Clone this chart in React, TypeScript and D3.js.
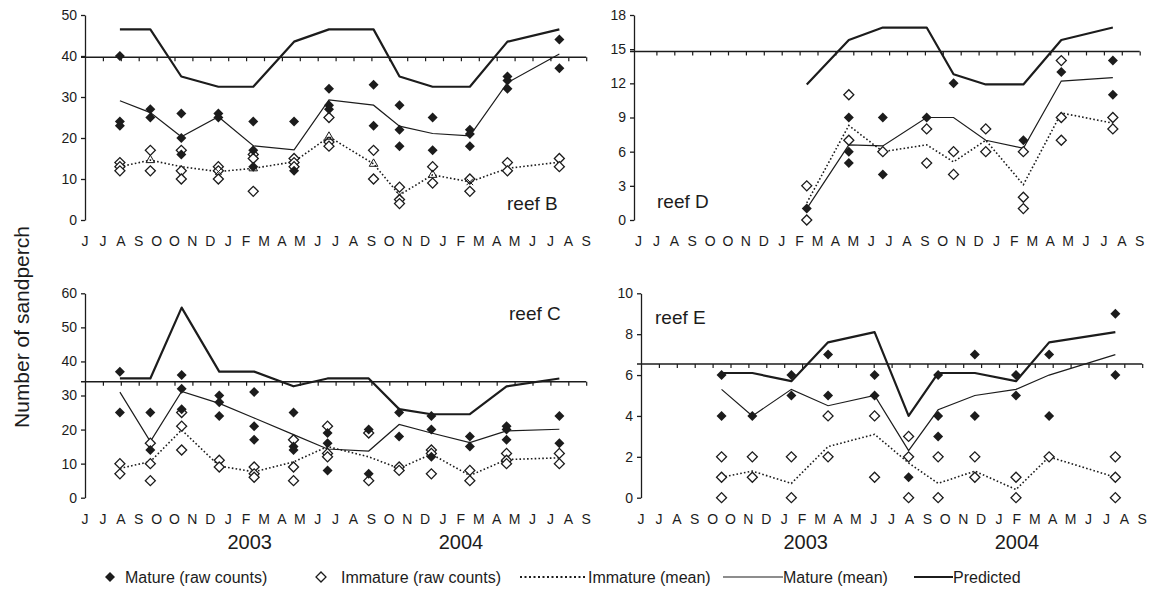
import React, { useRef, useEffect } from 'react'
import * as d3 from 'd3'

// month labels along each time axis (as printed in the original)
const monthLabels = ['J', 'J', 'A', 'S', 'O', 'O', 'N', 'D', 'J', 'F', 'M', 'A', 'M', 'J', 'J', 'A', 'S', 'O', 'N', 'D', 'J', 'F', 'M', 'A', 'M', 'J', 'J', 'A', 'S']
const yearLabels = ['2003', '2004']
const yearAt = [9.2, 21]

// reef B  (sample dates as month position, counts per replicate)
const reefBDates = [1.95, 3.65, 5.38, 7.45, 9.4, 11.68, 13.63, 16.12, 17.57, 19.42, 21.5, 23.6, 26.5]
const reefBMature = [[40, 24, 23], [27, 25], [26, 20, 16], [26, 25], [24, 17, 13], [24, 12], [32, 28, 27], [33, 23], [28, 22, 18], [25, 17], [22, 21, 18], [35, 34, 32], [44, 37]]
const reefBImmature = [[14, 13, 12], [17, 12], [17, 12, 10], [13, 12, 10], [16, 15, 7], [15, 14, 13], [25, 19, 18], [17, 10], [8, 5, 4], [13, 9], [10, 7], [14, 12], [15, 13]]
const reefBMatureMean = [29.1, 26.2, 20.3, 25.2, 18.1, 17.1, 29.3, 28, 22.9, 21.1, 20.5, 33.5, 40.5]
const reefBImmatureMean = [13, 14.6, 13, 11.8, 12.6, 14.2, 20.3, 13.7, 6.1, 11, 9.3, 12.6, 14.1]
const reefBPredicted = [46.5, 46.5, 35, 32.5, 32.5, 43.5, 46.5, 46.5, 35, 32.5, 32.5, 43.5, 46.5]
const reefBCross = 39.7
const reefBTriangles = [1, 4, 6, 7, 9]
const reefBCrosses = [3, 8, 10]

// reef D
const reefDDates = [9.4, 11.75, 13.65, 16.1, 17.6, 19.4, 21.5, 23.62, 26.5]
const reefDMature = [[1], [9, 6, 5], [9, 4], [9], [12], [], [7], [13], [14, 11]]
const reefDImmature = [[3, 0], [11, 7], [6], [8, 5], [6, 4], [8, 6], [6, 2, 1], [14, 9, 7], [9, 8]]
const reefDMatureMean = [1, 6.6, 6.5, 9, 9, 7, 6.3, 12.2, 12.5]
const reefDImmatureMean = [1.5, 8.3, 6, 6.6, 5.1, 7, 3.1, 9.4, 8.5]
const reefDPredicted = [11.9, 15.8, 16.9, 16.9, 12.8, 11.9, 11.9, 15.8, 16.9]
const reefDCross = 14.8

// reef C
const reefCDates = [1.95, 3.65, 5.4, 7.5, 9.45, 11.65, 13.55, 15.85, 17.55, 19.35, 21.5, 23.55, 26.5]
const reefCMature = [[37, 25], [25, 14], [36, 32, 26], [30, 28, 24], [31, 21, 17], [25, 15, 14], [19, 16, 8], [20, 7], [25, 18], [24, 20, 12], [18, 15], [21, 20, 17], [24, 16]]
const reefCImmature = [[10, 7], [16, 10, 5], [25, 21, 14], [11, 9], [9, 7, 6], [17, 9, 5], [21, 13, 12], [19, 5], [9, 8], [14, 13, 7], [8, 5], [13, 11, 10], [13, 10]]
const reefCMatureMean = [31, 16.5, 31.2, 27.7, 23.4, 18.5, 14.3, 13.7, 21.5, 19, 16.2, 19.6, 20.1]
const reefCImmatureMean = [8.6, 10.6, 19.9, 9.3, 7.6, 10.5, 15, 12, 8.6, 12.8, 6.5, 11.2, 11.7]
const reefCPredicted = [35, 35, 55.8, 37, 37, 32.7, 35, 35, 26, 24.5, 24.5, 32.7, 35]
const reefCCross = 34.05

// reef E
const reefEDates = [4.5, 6.22, 8.4, 10.45, 13.05, 14.95, 16.6, 18.65, 20.95, 22.8, 26.5]
const reefEMature = [[6, 4], [4], [6, 5], [7, 5], [6, 5], [1], [6, 4, 3], [7, 4], [6, 5], [7, 4], [9, 6]]
const reefEImmature = [[2, 1, 0], [2, 1], [2, 0], [4, 2], [4, 1], [3, 2, 0], [2, 0], [2, 1], [1, 0], [2], [2, 1, 0]]
const reefEMatureMean = [5.3, 4, 5.3, 4.5, 5, 2.3, 4.3, 5, 5.3, 6, 7]
const reefEImmatureMean = [1, 1.3, 0.7, 2.5, 3.1, 1.7, 0.7, 1.3, 0.4, 2, 1]
const reefEPredicted = [6.1, 6.1, 5.7, 7.6, 8.1, 4, 6.1, 6.1, 5.7, 7.6, 8.1]
const reefECross = 6.54

const W = 1153
const H = 596
const STEP = 17.9
const FONT = '"Liberation Sans", Arial, Helvetica, sans-serif'
const INK = '#1c1c1c'

const panels = [
  {
    name: 'reef B', dates: reefBDates, mature: reefBMature, immature: reefBImmature,
    matureMean: reefBMatureMean, immatureMean: reefBImmatureMean, predicted: reefBPredicted,
    cross: reefBCross, triangles: reefBTriangles, crosses: reefBCrosses,
    yMax: 50, yStep: 10, x0: 85, axisX: 85, top: 15, bottom: 220, monthY: 245.5, years: false,
    labelX: 507, labelY: 210
  },
  {
    name: 'reef D', dates: reefDDates, mature: reefDMature, immature: reefDImmature,
    matureMean: reefDMatureMean, immatureMean: reefDImmatureMean, predicted: reefDPredicted,
    cross: reefDCross, triangles: [], crosses: [],
    yMax: 18, yStep: 3, x0: 638.5, axisX: 634, top: 15, bottom: 220, monthY: 245.5, years: false,
    labelX: 657, labelY: 208
  },
  {
    name: 'reef C', dates: reefCDates, mature: reefCMature, immature: reefCImmature,
    matureMean: reefCMatureMean, immatureMean: reefCImmatureMean, predicted: reefCPredicted,
    cross: reefCCross, triangles: [], crosses: [],
    yMax: 60, yStep: 10, x0: 85, axisX: 85, top: 293.3, bottom: 497.7, monthY: 524, years: true,
    labelX: 509, labelY: 320
  },
  {
    name: 'reef E', dates: reefEDates, mature: reefEMature, immature: reefEImmature,
    matureMean: reefEMatureMean, immatureMean: reefEImmatureMean, predicted: reefEPredicted,
    cross: reefECross, triangles: [], crosses: [],
    yMax: 10, yStep: 2, x0: 641, axisX: 641, top: 293.3, bottom: 497.7, monthY: 524, years: true,
    labelX: 655, labelY: 324
  }
]

const diamond = d3.symbol(d3.symbolSquare, 50)()

function drawPanel(svg: any, p: any) {
  const x = d3.scaleLinear().domain([0, 28]).range([p.x0, p.x0 + 28 * STEP])
  const y = d3.scaleLinear().domain([0, p.yMax]).range([p.bottom, p.top])
  const g = svg.append('g')

  // vertical axis
  const ya = g.append('g')
    .attr('transform', `translate(${p.axisX},0)`)
    .call(d3.axisLeft(y).tickValues(d3.range(0, p.yMax + 0.01, p.yStep)).tickSize(4).tickSizeOuter(0).tickPadding(4))
  ya.attr('font-family', FONT).attr('font-size', 14).attr('color', INK)
  ya.selectAll('path, line').attr('stroke-width', 1.3)

  // horizontal axis crossing the value axis
  const xa = g.append('g')
    .attr('transform', `translate(0,${y(p.cross)})`)
    .call(d3.axisBottom(x).tickValues(d3.range(1, 29)).tickSize(4).tickSizeOuter(0).tickFormat(() => ''))
  xa.attr('color', INK)
  xa.select('.domain').attr('d', `M${p.axisX - 4},0H${x(28)}`).attr('stroke-width', 1.5)
  xa.selectAll('.tick line').attr('stroke-width', 1.2)

  // month labels
  g.selectAll('text.month').data(monthLabels).join('text')
    .attr('class', 'month')
    .attr('x', (_d: string, i: number) => x(i))
    .attr('y', p.monthY)
    .attr('text-anchor', 'middle')
    .attr('font-family', FONT).attr('font-size', 14).attr('fill', INK)
    .text((d: string) => d)

  if (p.years) {
    g.selectAll('text.year').data(yearLabels).join('text')
      .attr('class', 'year')
      .attr('x', (_d: string, i: number) => x(yearAt[i]))
      .attr('y', p.monthY + 25.3)
      .attr('text-anchor', 'middle')
      .attr('font-family', FONT).attr('font-size', 20).attr('fill', INK)
      .text((d: string) => d)
  }

  g.append('text')
    .attr('x', p.labelX).attr('y', p.labelY)
    .attr('font-family', FONT).attr('font-size', 19).attr('fill', INK)
    .text(p.name)

  const pts = (vals: number[]) => p.dates.map((d: number, i: number) => ({ x: d, v: vals[i] }))
  const line = d3.line<any>().x(d => x(d.x)).y(d => y(d.v))

  g.append('path').attr('d', line(pts(p.immatureMean)))
    .attr('fill', 'none').attr('stroke', INK).attr('stroke-width', 1.6).attr('stroke-dasharray', '1.6,2.2')
  g.append('path').attr('d', line(pts(p.matureMean)))
    .attr('fill', 'none').attr('stroke', INK).attr('stroke-width', 1.2)
  g.append('path').attr('d', line(pts(p.predicted)))
    .attr('fill', 'none').attr('stroke', INK).attr('stroke-width', 2.2).attr('stroke-linejoin', 'round')

  const flat = (groups: number[][]) => p.dates.flatMap((d: number, i: number) => groups[i].map(v => ({ x: d, v })))

  g.selectAll('path.imm').data(flat(p.immature)).join('path')
    .attr('class', 'imm')
    .attr('d', diamond)
    .attr('transform', (d: any) => `translate(${x(d.x)},${y(d.v)}) rotate(45)`)
    .attr('fill', '#fff').attr('stroke', INK).attr('stroke-width', 1.3)

  g.selectAll('path.mat').data(flat(p.mature)).join('path')
    .attr('class', 'mat')
    .attr('d', diamond)
    .attr('transform', (d: any) => `translate(${x(d.x)},${y(d.v)}) rotate(45)`)
    .attr('fill', INK)

  const mean = pts(p.immatureMean)
  g.selectAll('path.tri').data(p.triangles.map((i: number) => mean[i])).join('path')
    .attr('class', 'tri')
    .attr('d', d3.symbol(d3.symbolTriangle, 32)())
    .attr('transform', (d: any) => `translate(${x(d.x)},${y(d.v)})`)
    .attr('fill', 'none').attr('stroke', INK).attr('stroke-width', 1)
  g.selectAll('path.xm').data(p.crosses.map((i: number) => mean[i])).join('path')
    .attr('class', 'xm')
    .attr('d', d3.symbol(d3.symbolX, 30)())
    .attr('transform', (d: any) => `translate(${x(d.x)},${y(d.v)})`)
    .attr('fill', 'none').attr('stroke', INK).attr('stroke-width', 1)
}

function drawLegend(svg: any) {
  const g = svg.append('g').attr('font-family', FONT).attr('font-size', 16).attr('fill', INK)
  const cy = 577
  g.append('path').attr('d', diamond).attr('transform', `translate(110,${cy}) rotate(45)`).attr('fill', INK)
  g.append('text').attr('x', 125).attr('y', cy + 5.5).text('Mature (raw counts)')
  g.append('path').attr('d', diamond).attr('transform', `translate(321,${cy}) rotate(45)`)
    .attr('fill', '#fff').attr('stroke', INK).attr('stroke-width', 1.3)
  g.append('text').attr('x', 341).attr('y', cy + 5.5).text('Immature (raw counts)')
  g.append('line').attr('x1', 520).attr('x2', 585).attr('y1', cy).attr('y2', cy)
    .attr('stroke', INK).attr('stroke-width', 1.8).attr('stroke-dasharray', '2,2.5')
  g.append('text').attr('x', 588).attr('y', cy + 5.5).text('Immature (mean)')
  g.append('line').attr('x1', 723).attr('x2', 783).attr('y1', cy).attr('y2', cy)
    .attr('stroke', INK).attr('stroke-width', 1.2)
  g.append('text').attr('x', 783).attr('y', cy + 5.5).text('Mature (mean)')
  g.append('line').attr('x1', 914).attr('x2', 953).attr('y1', cy).attr('y2', cy)
    .attr('stroke', INK).attr('stroke-width', 2.2)
  g.append('text').attr('x', 953).attr('y', cy + 5.5).text('Predicted')
}

export default function App() {
  const ref = useRef<SVGSVGElement>(null)

  useEffect(() => {
    const svg = d3.select(ref.current)
    svg.selectAll('*').remove()
    panels.forEach(p => drawPanel(svg, p))
    drawLegend(svg)
    svg.append('text')
      .attr('transform', 'translate(22,327) rotate(-90)')
      .attr('dy', '0.35em')
      .attr('text-anchor', 'middle')
      .attr('font-family', FONT).attr('font-size', 21).attr('fill', INK)
      .text('Number of sandperch')
  }, [])

  return (
    <div style={{ position: 'absolute', left: 0, top: 0 }}>
      <svg ref={ref} width={W} height={H} style={{ display: 'block', background: '#fff' }} />
    </div>
  )
}
